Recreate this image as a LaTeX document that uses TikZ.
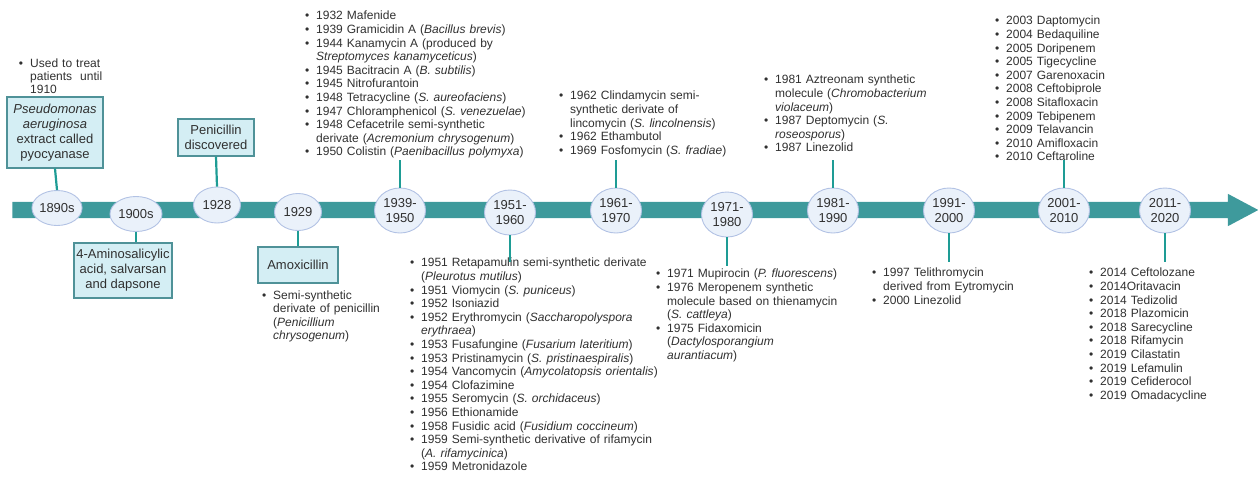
\documentclass[tikz,border=0pt]{standalone}
\usepackage{fontspec}
\setmainfont{Liberation Sans}
\usepackage{enumitem}
\usetikzlibrary{shapes.geometric,shapes.arrows,positioning}

\definecolor{barcol}{HTML}{3E9A9C}
\definecolor{linecol}{HTML}{1E9C95}
\definecolor{ovalfill}{HTML}{EAF1FA}
\definecolor{ovalline}{HTML}{B2C2E4}
\definecolor{boxfill}{HTML}{D4EEF4}
\definecolor{boxline}{HTML}{4F9298}
\definecolor{txtcol}{HTML}{303030}

\newcommand\itemlist[1]{\begin{itemize}[nosep,leftmargin=13pt,labelsep=7pt,label={\textbullet}]#1\end{itemize}}

\begin{document}
\begin{tikzpicture}[x=1pt,y=-1pt,
		myarrow/.style={single arrow,fill=barcol,draw=none,anchor=west,inner sep=8pt,single arrow head extend=8pt,single arrow tip angle=56,minimum height=1246pt},
		myellipse/.style={ellipse,draw=ovalline,fill=ovalfill,line width=.9pt,inner sep=0pt,minimum width=51pt,minimum height=45pt,align=center,text=txtcol,font=\fontsize{13}{14.5}\selectfont},
		mybox/.style={rectangle,draw=boxline,fill=boxfill,line width=1.1pt,inner sep=0pt,align=center,text=txtcol,font=\fontsize{13}{15}\selectfont},
		mylist/.style={anchor=north west,inner sep=0pt,text width=280pt,text=txtcol,font=\fontsize{12}{13.6}\selectfont},
		myline/.style={draw=linecol,line width=2.2pt}]
		\useasboundingbox (0,0) rectangle (1258,480);
		% timeline
		\node(tl)[myarrow] at (12,210) {};
		\coordinate (top) at (0,160);
		\coordinate (bot) at (0,262);
		% decades
		\node(e1890)[myellipse,minimum width=50pt,minimum height=35pt] at (57,208) {1890s};
		\node(e1900)[myellipse,minimum width=52pt,minimum height=35pt] at (136,214) {1900s};
		\node(e1928)[myellipse,minimum width=47pt,minimum height=36pt] at (217,205) {1928};
		\node(e1929)[myellipse,minimum width=47pt,minimum height=37pt] at (298,212) {1929};
		\node(e1939)[myellipse] at (400,210.5) {1939-\\1950};
		\node(e1951)[myellipse] at (510,212.5) {1951-\\1960};
		\node(e1961)[myellipse] at (616,210.5) {1961-\\1970};
		\node(e1971)[myellipse] at (727,214.5) {1971-\\1980};
		\node(e1981)[myellipse] at (833,210.5) {1981-\\1990};
		\node(e1991)[myellipse] at (949,210.5) {1991-\\2000};
		\node(e2001)[myellipse] at (1064,210.5) {2001-\\2010};
		\node(e2011)[myellipse] at (1165,210.5) {2011-\\2020};
		% boxes
		\node(b1890)[mybox,minimum width=96pt,minimum height=71pt] at (55,132.5) {\textit{Pseudomonas}\\\textit{aeruginosa}\\extract called\\pyocyanase};
		\node(b1900)[mybox,minimum width=98pt,minimum height=55pt] at (123,270.5) {4-Aminosalicylic\\acid, salvarsan\\and dapsone};
		\node(b1928)[mybox,minimum width=76pt,minimum height=37pt] at (216,137.5) {Penicillin\\discovered};
		\node(b1929)[mybox,minimum width=80pt,minimum height=36pt] at (298,265) {Amoxicillin};
		% lists
		\node(l1890)[mylist,font=\fontsize{12}{13}\selectfont] at (17,54) {\itemlist{\item Used to treat\newline patients\ \ until\newline 1910}};
		\node(l1929)[mylist,font=\fontsize{12}{13.3}\selectfont] at (260,286) {\itemlist{\item Semi-synthetic\newline derivate of penicillin\newline (\textit{Penicillium}\newline \textit{chrysogenum})}};
		\node(l1939)[mylist] at (303,6) {\itemlist{
			\item 1932 Mafenide
			\item 1939 Gramicidin A (\textit{Bacillus brevis})
			\item 1944 Kanamycin A (produced by\newline \textit{Streptomyces kanamyceticus})
			\item 1945 Bacitracin A (\textit{B. subtilis})
			\item 1945 Nitrofurantoin
			\item 1948 Tetracycline (\textit{S. aureofaciens})
			\item 1947 Chloramphenicol (\textit{S. venezuelae})
			\item 1948 Cefacetrile semi-synthetic\newline derivate (\textit{Acremonium chrysogenum})
			\item 1950 Colistin (\textit{Paenibacillus polymyxa})}};
		\node(l1951)[mylist] at (408,253) {\itemlist{
			\item 1951 Retapamulin semi-synthetic derivate\newline (\textit{Pleurotus mutilus})
			\item 1951 Viomycin (\textit{S. puniceus})
			\item 1952 Isoniazid
			\item 1952 Erythromycin (\textit{Saccharopolyspora}\newline \textit{erythraea})
			\item 1953 Fusafungine (\textit{Fusarium lateritium})
			\item 1953 Pristinamycin (\textit{S. pristinaespiralis})
			\item 1954 Vancomycin (\textit{Amycolatopsis orientalis})
			\item 1954 Clofazimine
			\item 1955 Seromycin (\textit{S. orchidaceus})
			\item 1956 Ethionamide
			\item 1958 Fusidic acid (\textit{Fusidium coccineum})
			\item 1959 Semi-synthetic derivative of rifamycin\newline (\textit{A. rifamycinica})
			\item 1959 Metronidazole}};
		\node(l1961)[mylist] at (557,86) {\itemlist{
			\item 1962 Clindamycin semi-\newline synthetic derivate of\newline lincomycin (\textit{S. lincolnensis})
			\item 1962 Ethambutol
			\item 1969 Fosfomycin (\textit{S. fradiae})}};
		\node(l1971)[mylist] at (654,264) {\itemlist{
			\item 1971 Mupirocin (\textit{P. fluorescens})
			\item 1976 Meropenem synthetic\newline molecule based on thienamycin\newline (\textit{S. cattleya})
			\item 1975 Fidaxomicin\newline (\textit{Dactylosporangium}\newline \textit{aurantiacum})}};
		\node(l1981)[mylist] at (762,70) {\itemlist{
			\item 1981 Aztreonam synthetic\newline molecule (\textit{Chromobacterium}\newline \textit{violaceum})
			\item 1987 Deptomycin (\textit{S.}\newline \textit{roseosporus})
			\item 1987 Linezolid}};
		\node(l1991)[mylist] at (870,263) {\itemlist{
			\item 1997 Telithromycin\newline derived from Eytromycin
			\item 2000 Linezolid}};
		\node(l2001)[mylist] at (993,11) {\itemlist{
			\item 2003 Daptomycin
			\item 2004 Bedaquiline
			\item 2005 Doripenem
			\item 2005 Tigecycline
			\item 2007 Garenoxacin
			\item 2008 Ceftobiprole
			\item 2008 Sitafloxacin
			\item 2009 Tebipenem
			\item 2009 Telavancin
			\item 2010 Amifloxacin
			\item 2010 Ceftaroline}};
		\node(l2011)[mylist] at (1087,263) {\itemlist{
			\item 2014 Ceftolozane
			\item 2014Oritavacin
			\item 2014 Tedizolid
			\item 2018 Plazomicin
			\item 2018 Sarecycline
			\item 2018 Rifamycin
			\item 2019 Cilastatin
			\item 2019 Lefamulin
			\item 2019 Cefiderocol
			\item 2019 Omadacycline}};
		% connectors
		\path [myline] (b1890.south) edge node {} (e1890.north);
		\path [myline] (e1900.south) edge node {} (e1900.south |- b1900.north);
		\path [myline] (b1928.south) edge node {} (e1928.north);
		\path [myline] (e1929.south) edge node {} (b1929.north);
		\path [myline] (e1939.north) edge node {} (e1939.north |- top);
		\path [myline] (e1951.south) edge node {} (e1951.south |- bot);
		\path [myline] (e1961.north) edge node {} (e1961.north |- top);
		\path [myline] (e1971.south) edge node {} ([yshift=-4pt]e1971.south |- bot);
		\path [myline] (e1981.north) edge node {} (e1981.north |- top);
		\path [myline] (e1991.south) edge node {} (e1991.south |- bot);
		\path [myline] (e2001.north) edge node {} (e2001.north |- top);
		\path [myline] (e2011.south) edge node {} (e2011.south |- bot);
	\end{tikzpicture}
\end{document}
